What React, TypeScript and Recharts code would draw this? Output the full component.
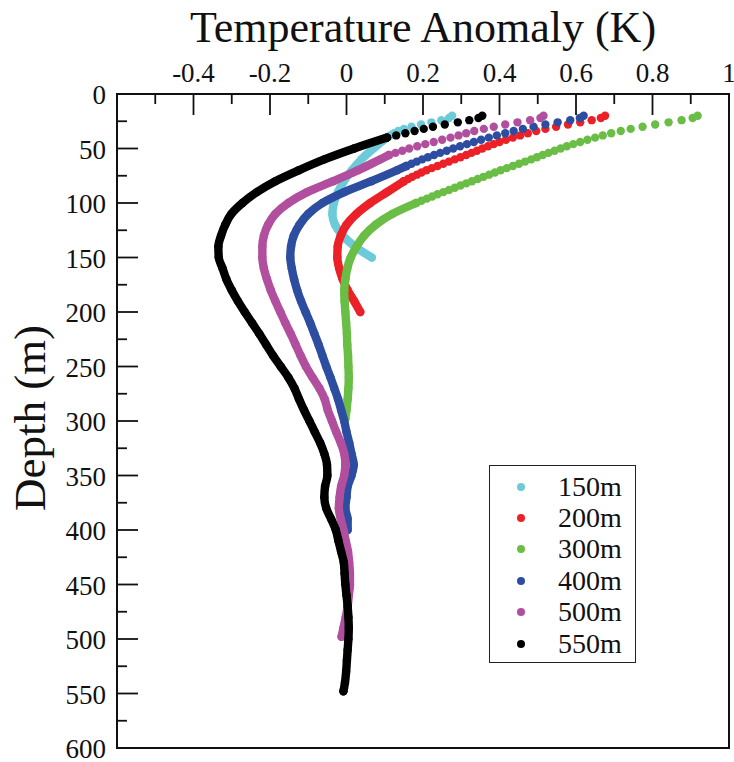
import React from 'react';
import { Legend, ReferenceArea, Scatter, ScatterChart, XAxis, YAxis } from 'recharts';

// each reading is [depth (m), temperature anomaly (K)]
type Reading = [number, number];

const SERIF = '"Liberation Serif", "Times New Roman", Times, serif';

const X_TICKS = [-0.6, -0.5, -0.4, -0.3, -0.2, -0.1, 0, 0.1, 0.2, 0.3, 0.4, 0.5, 0.6, 0.7, 0.8, 0.9, 1];
const X_LABELED = [-0.4, -0.2, 0, 0.2, 0.4, 0.6, 0.8, 1];
const Y_TICKS = [
  0, 25, 50, 75, 100, 125, 150, 175, 200, 225, 250, 275, 300, 325, 350, 375, 400, 425, 450, 475, 500, 525,
  550, 575, 600,
];
const Y_LABELED = [0, 50, 100, 150, 200, 250, 300, 350, 400, 450, 500, 550, 600];

const PROFILE_NAMES = ['150m', '200m', '300m', '400m', '500m', '550m'];
const PROFILE_COLORS = ['#6DCBD9', '#EC2027', '#6ABD45', '#2D4DA0', '#B14F9E', '#000000'];

// near-surface samples every 2 m, drawn as separate dots
const UPPER_150: Reading[] = [
  [20, 0.276], [22, 0.268], [24, 0.248], [26, 0.222], [28, 0.195], [30, 0.17], [32, 0.15], [34, 0.135],
  [36, 0.124], [38, 0.114], [40, 0.105],
];
const UPPER_200: Reading[] = [
  [20, 0.676], [22, 0.665], [24, 0.641], [26, 0.611], [28, 0.579], [30, 0.548], [32, 0.52], [34, 0.496],
  [36, 0.474], [38, 0.454], [40, 0.435], [42, 0.417], [44, 0.4], [46, 0.385], [48, 0.37], [50, 0.355],
  [52, 0.341], [54, 0.327], [56, 0.313], [58, 0.298], [60, 0.283], [62, 0.268], [64, 0.253], [66, 0.238],
  [68, 0.223], [70, 0.209], [72, 0.196], [74, 0.184], [76, 0.172], [78, 0.161], [80, 0.15],
];
const UPPER_300: Reading[] = [
  [20, 0.918], [22, 0.905], [24, 0.876], [26, 0.842], [28, 0.807], [30, 0.774], [32, 0.743], [34, 0.717],
  [36, 0.692], [38, 0.67], [40, 0.65], [42, 0.63], [44, 0.611], [46, 0.593], [48, 0.576], [50, 0.56],
  [52, 0.544], [54, 0.528], [56, 0.513], [58, 0.498], [60, 0.483], [62, 0.467], [64, 0.451], [66, 0.435],
  [68, 0.419], [70, 0.403], [72, 0.388], [74, 0.373], [76, 0.358], [78, 0.343], [80, 0.328], [82, 0.313],
  [84, 0.298], [86, 0.283], [88, 0.268], [90, 0.253], [92, 0.238], [94, 0.224], [96, 0.21], [98, 0.196],
  [100, 0.182],
];
const UPPER_400: Reading[] = [
  [20, 0.62], [22, 0.61], [24, 0.585], [26, 0.552], [28, 0.52], [30, 0.489], [32, 0.461], [34, 0.437],
  [36, 0.415], [38, 0.393], [40, 0.372], [42, 0.352], [44, 0.333], [46, 0.315], [48, 0.297], [50, 0.279],
  [52, 0.262], [54, 0.245], [56, 0.229], [58, 0.213], [60, 0.198], [62, 0.184], [64, 0.17], [66, 0.157],
];
const UPPER_500: Reading[] = [
  [20, 0.515], [22, 0.507], [24, 0.48], [26, 0.447], [28, 0.415], [30, 0.385], [32, 0.359], [34, 0.334],
  [36, 0.313], [38, 0.293], [40, 0.272], [42, 0.25], [44, 0.228], [46, 0.206], [48, 0.185], [50, 0.164],
  [52, 0.146], [54, 0.128], [56, 0.111],
];
const UPPER_550: Reading[] = [
  [20, 0.355], [22, 0.345], [24, 0.321], [26, 0.291], [28, 0.257], [30, 0.226], [32, 0.202], [34, 0.178],
  [36, 0.154], [38, 0.13], [40, 0.106],
];

// deeper part of each profile, where the samples run together into a solid trace
const LOWER_150: Reading[] = [
  [40, 0.105], [50, 0.07], [60, 0.039], [70, 0.014], [80, -0.007], [90, -0.022], [100, -0.033], [110, -0.037],
  [120, -0.03], [130, -0.01], [140, 0.022], [150, 0.066],
];
const LOWER_200: Reading[] = [
  [80, 0.15], [90, 0.106], [100, 0.062], [110, 0.026], [120, 0.0], [130, -0.015], [140, -0.023], [150, -0.024],
  [160, -0.019], [170, -0.01], [180, 0.003], [190, 0.02], [200, 0.036],
];
const LOWER_300: Reading[] = [
  [100, 0.182], [110, 0.12], [120, 0.076], [130, 0.046], [140, 0.026], [150, 0.011], [160, 0.002], [170, -0.003],
  [180, -0.006], [190, -0.005], [200, -0.003], [210, -0.001], [220, 0.001], [230, 0.002], [240, 0.004],
  [250, 0.005], [260, 0.006], [270, 0.005], [280, 0.003], [290, 0.0], [298, -0.003],
];
const LOWER_400: Reading[] = [
  [66, 0.157], [70, 0.132], [80, 0.065], [90, -0.006], [100, -0.063], [110, -0.1], [120, -0.123], [130, -0.138],
  [140, -0.145], [150, -0.147], [160, -0.143], [170, -0.137], [180, -0.129], [190, -0.119], [200, -0.107],
  [210, -0.095], [220, -0.084], [230, -0.073], [240, -0.063], [250, -0.053], [260, -0.042], [270, -0.032],
  [280, -0.022], [290, -0.014], [300, -0.006], [310, 0.0], [320, 0.007], [330, 0.013], [340, 0.019],
  [350, 0.013], [360, 0.003], [370, 0.0], [380, -0.003], [390, 0.003], [400, 0.003],
];
const LOWER_500: Reading[] = [
  [56, 0.111], [60, 0.088], [70, 0.03], [80, -0.035], [90, -0.103], [100, -0.152], [110, -0.186], [120, -0.205],
  [130, -0.216], [140, -0.22], [150, -0.22], [160, -0.216], [170, -0.208], [180, -0.198], [190, -0.186],
  [200, -0.173], [210, -0.16], [220, -0.146], [230, -0.133], [240, -0.12], [250, -0.106], [260, -0.089],
  [270, -0.071], [280, -0.057], [290, -0.049], [300, -0.038], [310, -0.027], [320, -0.015], [330, -0.006],
  [340, -0.003], [350, -0.006], [360, -0.014], [370, -0.018], [380, -0.02], [390, -0.015], [400, -0.008],
  [410, -0.002], [420, 0.004], [430, 0.007], [440, 0.009], [450, 0.009], [460, 0.006], [470, 0.003],
  [480, -0.002], [490, -0.008], [498, -0.013],
];
const LOWER_550: Reading[] = [
  [40, 0.106], [50, 0.02], [60, -0.058], [70, -0.125], [80, -0.186], [90, -0.234], [100, -0.272], [110, -0.301],
  [120, -0.317], [130, -0.328], [140, -0.335], [150, -0.334], [160, -0.324], [170, -0.314], [180, -0.3],
  [190, -0.284], [200, -0.266], [210, -0.247], [220, -0.228], [230, -0.21], [240, -0.192], [250, -0.172],
  [260, -0.152], [270, -0.136], [280, -0.124], [290, -0.111], [300, -0.097], [310, -0.083], [320, -0.069],
  [330, -0.058], [340, -0.051], [350, -0.05], [360, -0.056], [370, -0.058], [380, -0.053], [390, -0.04],
  [400, -0.028], [410, -0.021], [420, -0.014], [430, -0.007], [440, -0.005], [450, -0.003], [460, 0.0],
  [470, 0.003], [480, 0.005], [490, 0.006], [500, 0.005], [510, 0.003], [520, 0.001], [530, -0.001],
  [540, -0.004], [548, -0.008],
];

const UPPER = [UPPER_150, UPPER_200, UPPER_300, UPPER_400, UPPER_500, UPPER_550];
const LOWER = [LOWER_150, LOWER_200, LOWER_300, LOWER_400, LOWER_500, LOWER_550];

const DOT_R = 4.2;

const toPoints = (readings: Reading[]) => readings.map(([depth, anomaly]) => ({ depth, anomaly }));

const profiles = PROFILE_NAMES.map((name, i) => ({
  name,
  color: PROFILE_COLORS[i],
  upper: toPoints(UPPER[i]),
  lower: toPoints(LOWER[i]),
}));

const dotShape = (color: string) => (props: any) =>
  <circle cx={props.cx} cy={props.cy} r={DOT_R} fill={color} />;

// ticks point into the plot; labels sit outside the frame
const TopTick = (props: any) => {
  const { x, y, payload } = props;
  const labeled = X_LABELED.includes(payload.value);
  const edge = y + 12;
  return (
    <g>
      <line x1={x} x2={x} y1={edge} y2={edge + (labeled ? 21 : 10)} stroke="#111" strokeWidth={1.8} />
      {labeled && (
        <text x={x} y={y} textAnchor="middle" fontSize={27} fontFamily={SERIF} fill="#111">
          {String(payload.value)}
        </text>
      )}
    </g>
  );
};

const LeftTick = (props: any) => {
  const { x, y, payload } = props;
  const labeled = Y_LABELED.includes(payload.value);
  const edge = x + 11;
  return (
    <g>
      <line x1={edge} x2={edge + (labeled ? 21 : 10)} y1={y} y2={y} stroke="#111" strokeWidth={1.8} />
      {labeled && (
        <text x={x} y={y + 10} textAnchor="end" fontSize={27} fontFamily={SERIF} fill="#111">
          {String(payload.value)}
        </text>
      )}
    </g>
  );
};

const TopTitle = (props: any) => {
  const { x, y, width } = props.viewBox;
  return (
    <text x={x + width / 2} y={y + 8} textAnchor="middle" fontSize={44} fontFamily={SERIF} fill="#111">
      Temperature Anomaly (K)
    </text>
  );
};

const LeftTitle = (props: any) => {
  const { x, y, height } = props.viewBox;
  const cx = x - 2;
  const cy = y + height / 2 - 3;
  return (
    <text
      x={cx}
      y={cy}
      transform={`rotate(-90, ${cx}, ${cy})`}
      textAnchor="middle"
      fontSize={45}
      fontFamily={SERIF}
      fill="#111"
    >
      Depth (m)
    </text>
  );
};

const LegendBox = () => (
  <div
    style={{
      width: 147,
      height: 198,
      boxSizing: 'border-box',
      border: '1.5px solid #222',
      background: '#fff',
      paddingTop: 5,
      fontFamily: SERIF,
      fontSize: 28,
      color: '#111',
    }}
  >
    {profiles.map((p) => (
      <div key={p.name} style={{ height: 31.4, display: 'flex', alignItems: 'center' }}>
        <span
          style={{
            display: 'inline-block',
            width: 8,
            height: 8,
            borderRadius: '50%',
            background: p.color,
            marginLeft: 27,
            marginRight: 33,
          }}
        />
        <span style={{ lineHeight: 1 }}>{p.name}</span>
      </div>
    ))}
  </div>
);

export default function App() {
  return (
    <div style={{ position: 'fixed', left: 0, top: 0, width: 734, height: 762, background: '#fff' }}>
      <ScatterChart
        width={734}
        height={762}
        margin={{ top: 34, right: 5, bottom: 14, left: 47 }}
        style={{ overflow: 'visible' }}
      >
        <XAxis
          type="number"
          dataKey="anomaly"
          orientation="top"
          height={60}
          domain={[-0.6, 1]}
          allowDataOverflow
          ticks={X_TICKS}
          interval={0}
          tickSize={0}
          tickMargin={12}
          tickLine={false}
          axisLine={false}
          tick={(p: any) => <TopTick {...p} />}
          label={{ content: (p: any) => <TopTitle {...p} /> }}
        />
        <YAxis
          type="number"
          dataKey="depth"
          reversed
          width={70}
          domain={[0, 600]}
          allowDataOverflow
          ticks={Y_TICKS}
          interval={0}
          tickSize={0}
          tickMargin={11}
          tickLine={false}
          axisLine={false}
          tick={(p: any) => <LeftTick {...p} />}
          label={{ content: (p: any) => <LeftTitle {...p} /> }}
        />
        <ReferenceArea
          x1={-0.6}
          x2={1}
          y1={0}
          y2={600}
          fill="none"
          fillOpacity={0}
          stroke="#111"
          strokeWidth={2}
          ifOverflow="visible"
        />
        {profiles.map((p) => [
          <Scatter
            key={`${p.name}-upper`}
            name={p.name}
            data={p.upper}
            fill={p.color}
            shape={dotShape(p.color)}
            isAnimationActive={false}
          />,
          <Scatter
            key={`${p.name}-lower`}
            name={`${p.name} deep`}
            data={p.lower}
            fill={p.color}
            shape={dotShape(p.color)}
            line={{ stroke: p.color, strokeWidth: DOT_R * 2, strokeLinecap: 'round', strokeLinejoin: 'round' }}
            lineJointType="monotoneY"
            isAnimationActive={false}
          />,
        ])}
        <Legend
          layout="vertical"
          align="center"
          verticalAlign="middle"
          content={() => <LegendBox />}
          wrapperStyle={{ position: 'absolute', left: 489, top: 465, width: 147, height: 198 }}
        />
      </ScatterChart>
    </div>
  );
}
